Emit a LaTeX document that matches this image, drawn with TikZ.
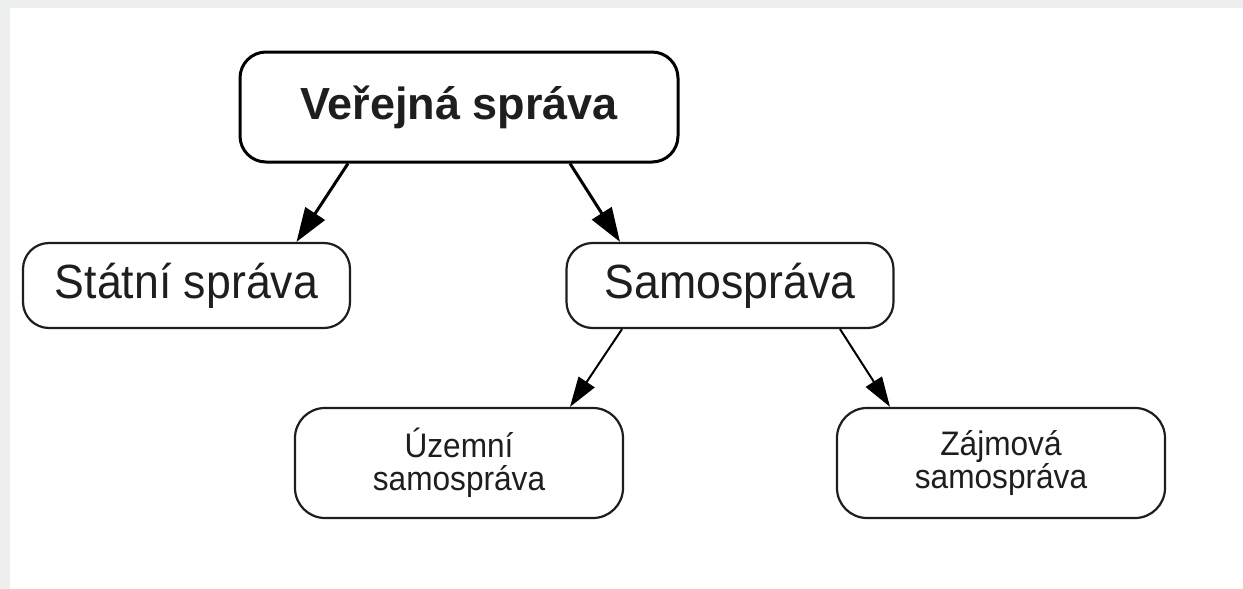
\documentclass[tikz,border=0pt]{standalone}
\usepackage{fontspec}
\setmainfont{Liberation Sans}
\newfontfamily\narrowfont[FakeStretch=0.93]{Liberation Sans}
\usetikzlibrary{arrows.meta,calc}
\definecolor{bggray}{HTML}{EDEFEF}
\definecolor{inkgray}{HTML}{1E1E1E}
\tikzset{
  topbox/.style={draw=black, line width=3pt, rounded corners=26pt, fill=white,
    minimum width=438pt, minimum height=110pt, inner sep=0pt,
    font=\bfseries\fontsize{45}{50}\selectfont, text=inkgray},
  midbox/.style={draw=inkgray, line width=2.2pt, rounded corners=26pt, fill=white,
    minimum width=327pt, minimum height=85pt, inner sep=0pt,
    font=\narrowfont\fontsize{48}{52}\selectfont, text=inkgray},
  lowbox/.style={draw=inkgray, line width=2.2pt, rounded corners=30pt, fill=white,
    minimum width=328pt, minimum height=110pt, inner sep=0pt, align=center,
    font=\narrowfont\fontsize{34}{33}\selectfont, text=inkgray},
  bigarrow/.style={draw=black, line width=3pt, -{Triangle[length=34pt,width=23pt]}},
  smallarrow/.style={draw=black, line width=2pt, -{Triangle[length=30pt,width=19pt]}}
}
\begin{document}
\begin{tikzpicture}[x=1pt,y=-1pt]
\useasboundingbox (0,0) rectangle (1243,589);
\fill[bggray] (0,0) rectangle (1243,589);
\fill[white] (10,8) rectangle (1243,589);

\node[topbox] (vs) at (459,107) {Veřejná správa};
\node[midbox] (statni) at (186.5,285.5) {Státní správa};
\node[midbox] (samo) at (730,285.5) {Samospráva};
\node[lowbox] (uzemni) at (459,463) {Územní\\samospráva};
\node[lowbox] (zajmova) at (1001,463) {Zájmová\\samospráva};

\draw[bigarrow] ($(vs.south)+(-111,0)$) -- ($(statni.north)+(110,0)$);
\draw[bigarrow] ($(vs.south)+(111,0)$) -- ($(samo.north)+(-110,0)$);
\draw[smallarrow] ($(samo.south)+(-108,0)$) -- ($(uzemni.north)+(111,0)$);
\draw[smallarrow] ($(samo.south)+(110,0)$) -- ($(zajmova.north)+(-111,0)$);
\end{tikzpicture}
\end{document}
